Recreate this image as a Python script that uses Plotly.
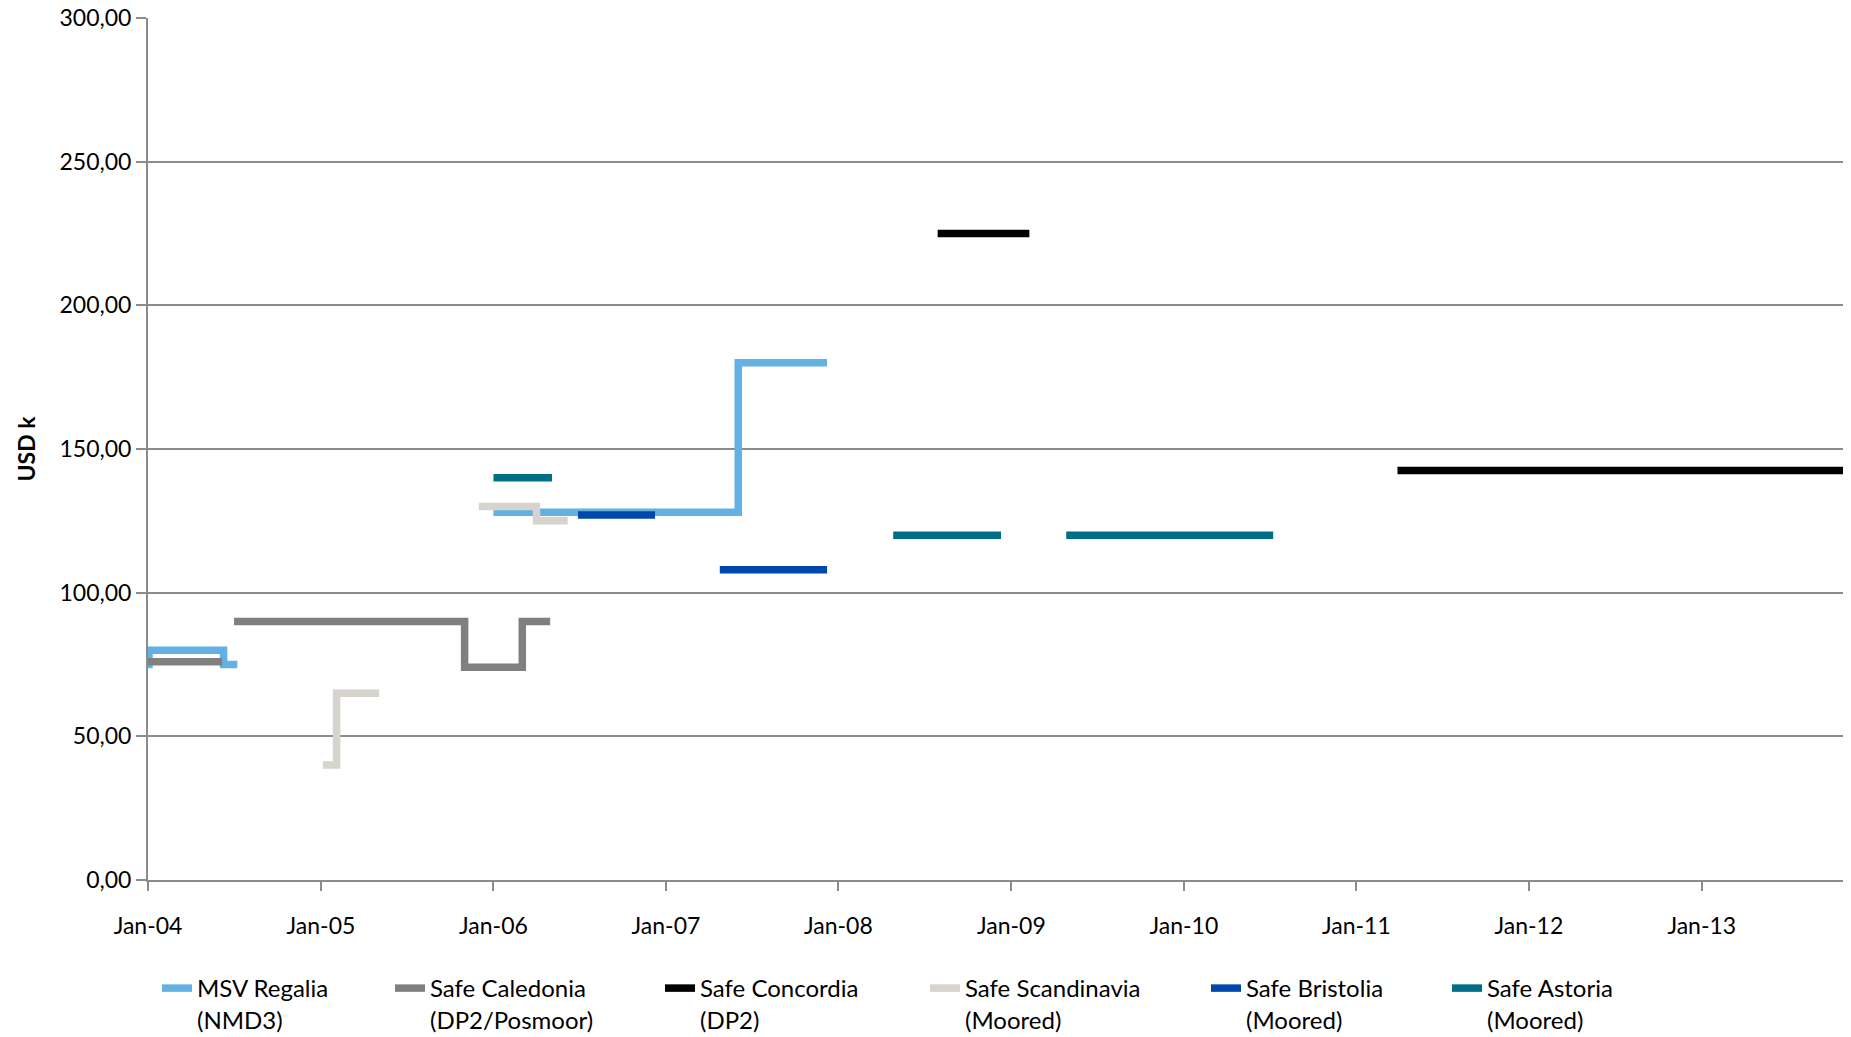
import plotly.graph_objects as go

# ---------------- data ----------------
series_names = [
    "MSV Regalia<br>(NMD3)",
    "Safe Caledonia<br>(DP2/Posmoor)",
    "Safe Concordia<br>(DP2)",
    "Safe Scandinavia<br>(Moored)",
    "Safe Bristolia<br>(Moored)",
    "Safe Astoria<br>(Moored)",
]

regalia_dates = ["2004-01-01", "2004-01-03", "2004-06-09", "2004-07-08", "2005-06-01",
                 "2006-01-01", "2007-06-03", "2007-12-08"]
regalia_values = [75, 80, 75, 75, None, 128, 180, 180]

caledonia_dates = ["2004-01-01", "2004-06-06", "2004-06-20",
                   "2004-07-01", "2005-11-01", "2006-03-03", "2006-05-01"]
caledonia_values = [76, 76, None, 90, 74, 90, 90]

concordia_dates = ["2008-07-29", "2009-02-08", "2010-01-01", "2011-03-29", "2013-10-31"]
concordia_values = [225, 225, None, 142.5, 142.5]

scandinavia_dates = ["2005-01-05", "2005-02-03", "2005-05-04", "2005-08-01",
                     "2005-12-01", "2006-04-02", "2006-06-07"]
scandinavia_values = [40, 65, 65, None, 130, 125, 125]

bristolia_dates = ["2006-06-29", "2006-12-09", "2007-02-01", "2007-04-25", "2007-12-08"]
bristolia_values = [127, 127, None, 108, 108]

astoria_dates = ["2006-01-01", "2006-05-05", "2007-06-01", "2008-04-26", "2008-12-10",
                 "2009-02-01", "2009-04-27", "2010-07-09"]
astoria_values = [140, 140, None, 120, 120, None, 120, 120]

x_start = "2004-01-01"
x_end = "2013-10-31"

# ---------------- styling ----------------
colors = ["#63B0E3", "#808080", "#000000", "#D7D3CD", "#0047AB", "#006E86"]
all_dates = [regalia_dates, caledonia_dates, concordia_dates,
             scandinavia_dates, bristolia_dates, astoria_dates]
all_values = [regalia_values, caledonia_values, concordia_values,
              scandinavia_values, bristolia_values, astoria_values]

OFF = 8  # default page body margin of the browser
W, H = 1851 - OFF, 1037 - OFF
# plot area target in window px: left 148, right 1845, top 18, bottom 880
ML = 148 - OFF
MR = W - (1845 - OFF)
MT = 18 - OFF
MB = H - (880 - OFF)
PW = W - ML - MR
PH = H - MT - MB

FONT = "Lato, Carlito, Calibri, sans-serif"

fig = go.Figure()
legend_text_px = [197, 430, 700, 965, 1246, 1487]
for i, (name, d, v, c) in enumerate(zip(series_names, all_dates, all_values, colors)):
    lname = "legend" if i == 0 else f"legend{i+1}"
    fig.add_trace(go.Scatter(
        x=d, y=v, name=name, mode="lines",
        line=dict(color=c, width=7.5, shape="hv"),
        connectgaps=False, legend=lname, hoverinfo="skip",
    ))
    fig.update_layout(**{lname: dict(
        x=(legend_text_px[i] - OFF - 40 - ML) / PW, xanchor="left",
        y=-(MB + 5) / PH, yanchor="bottom",
        orientation="v", valign="top", bgcolor="rgba(0,0,0,0)",
        font=dict(family=FONT, size=24, color="#000"),
        itemclick=False, itemdoubleclick=False,
    )})

fig.update_layout(
    width=W, height=H,
    margin=dict(l=ML, r=MR, t=MT, b=MB, autoexpand=False),
    paper_bgcolor="white", plot_bgcolor="white",
    separators=",.",
    font=dict(family=FONT, color="#000"),
    showlegend=True,
    xaxis=dict(
        type="date", range=[x_start, x_end], automargin=False,
        tick0=x_start, dtick="M12", tickformat="%b-%y",
        ticks="outside", ticklen=9, tickwidth=1.5, tickcolor="#8c8c8c",
        showline=True, linecolor="#8c8c8c", linewidth=2,
        showgrid=False, zeroline=False,
        tickfont=dict(family=FONT, size=23, color="#000"),
        ticklabelstandoff=15, ticklabeloverflow="allow",
    ),
    yaxis=dict(
        range=[0, 300], dtick=50, tick0=0, tickformat=".2f", automargin=False,
        ticks="outside", ticklen=10, tickwidth=1.5, tickcolor="#8c8c8c",
        showline=True, linecolor="#8c8c8c", linewidth=2,
        showgrid=True, gridcolor="#8c8c8c", gridwidth=1.5,
        zeroline=False, ticklabeloverflow="allow",
        tickfont=dict(family=FONT, size=23, color="#000"),
        title=dict(text="<b>USD k</b>", font=dict(family=FONT, size=23, color="#000"),
                   standoff=17),
    ),
)

fig.write_html("out.html")
